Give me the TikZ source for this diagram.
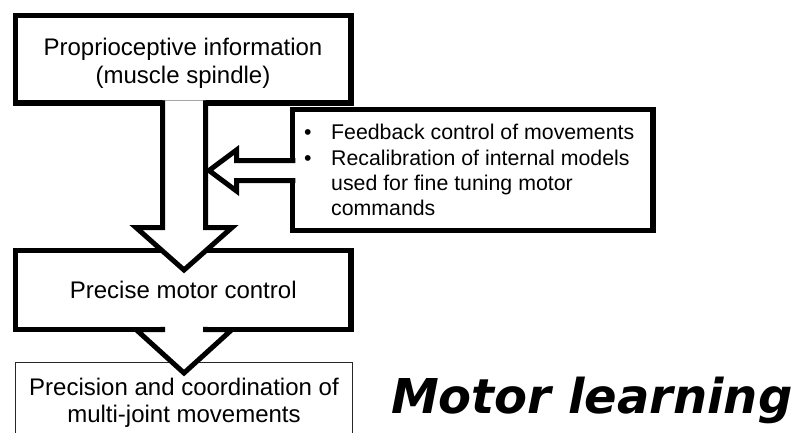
\documentclass[tikz,border=0pt]{standalone}
\usepackage{fontspec}
\setmainfont{Liberation Sans}
\newfontfamily\handfont{DejaVu Sans}
\begin{document}
\begin{tikzpicture}[x=1pt,y=-1pt,
  box/.style={draw, line width=5.5pt, fill=white, inner sep=0pt, outer sep=0pt,
              minimum width=335.5pt, line join=miter},
  thinbox/.style={draw=black!85, line width=1pt, fill=white, inner sep=0pt, outer sep=0pt},
  blockarrow/.style={draw, fill=white, line width=5pt, line join=miter},
  txt/.style={font=\fontsize{24}{28}\selectfont, align=center, inner sep=0pt},
]
\useasboundingbox (0,0) rectangle (792,432);
\fill[white] (0,0) rectangle (792,432);

% boxes
\node[box, minimum height=87.5pt] (prop) at (183.25,59.25) {};
\node[txt, anchor=north] (proptext) at (183,38) {Proprioceptive information\\(muscle spindle)};

\node[box, txt, minimum height=79pt] (pmc) at (183.25,290) {Precise motor control};

\node[box, minimum width=360.5pt, minimum height=121pt] (fb) at (472.75,170) {};
\node[anchor=north west, inner sep=0pt, align=left,
      font=\fontsize{21.3}{25.4}\selectfont] (fbtext) at (304,124)
  {\makebox[27pt][l]{\textbullet}Feedback control of movements\\
   \makebox[27pt][l]{\textbullet}Recalibration of internal models\\
   \hspace*{27pt}used for fine tuning motor\\
   \hspace*{27pt}commands};

\node[thinbox, minimum width=337pt, minimum height=80pt, anchor=north] (prec) at (183.5,362.5) {};
\node[txt, anchor=north, font=\fontsize{24}{26.7}\selectfont] (prectext) at (184,377.7)
  {Precision and coordination of\\multi-joint movements};

% block arrows
\draw[blockarrow] (162.5,100.25) -- (162.5,227.5) -- (136,227.5) -- (184,270)
   -- (232,227.5) -- (205.5,227.5) -- (205.5,100.25);
\draw[blockarrow] (162.5,326.75) -- (162.5,329.5) -- (136,329.5) -- (184,373)
   -- (232,329.5) -- (205.5,329.5) -- (205.5,326.75);
\draw[blockarrow] (295.25,160.5) -- (236.5,160.5) -- (236.5,150) -- (209,170.5)
   -- (236.5,191) -- (236.5,180.5) -- (295.25,180.5);

% title
\node[anchor=base west, inner sep=0pt,
      font=\handfont\bfseries\itshape\fontsize{48}{56}\selectfont] (ml) at (391,413) {Motor learning};
\end{tikzpicture}
\end{document}
